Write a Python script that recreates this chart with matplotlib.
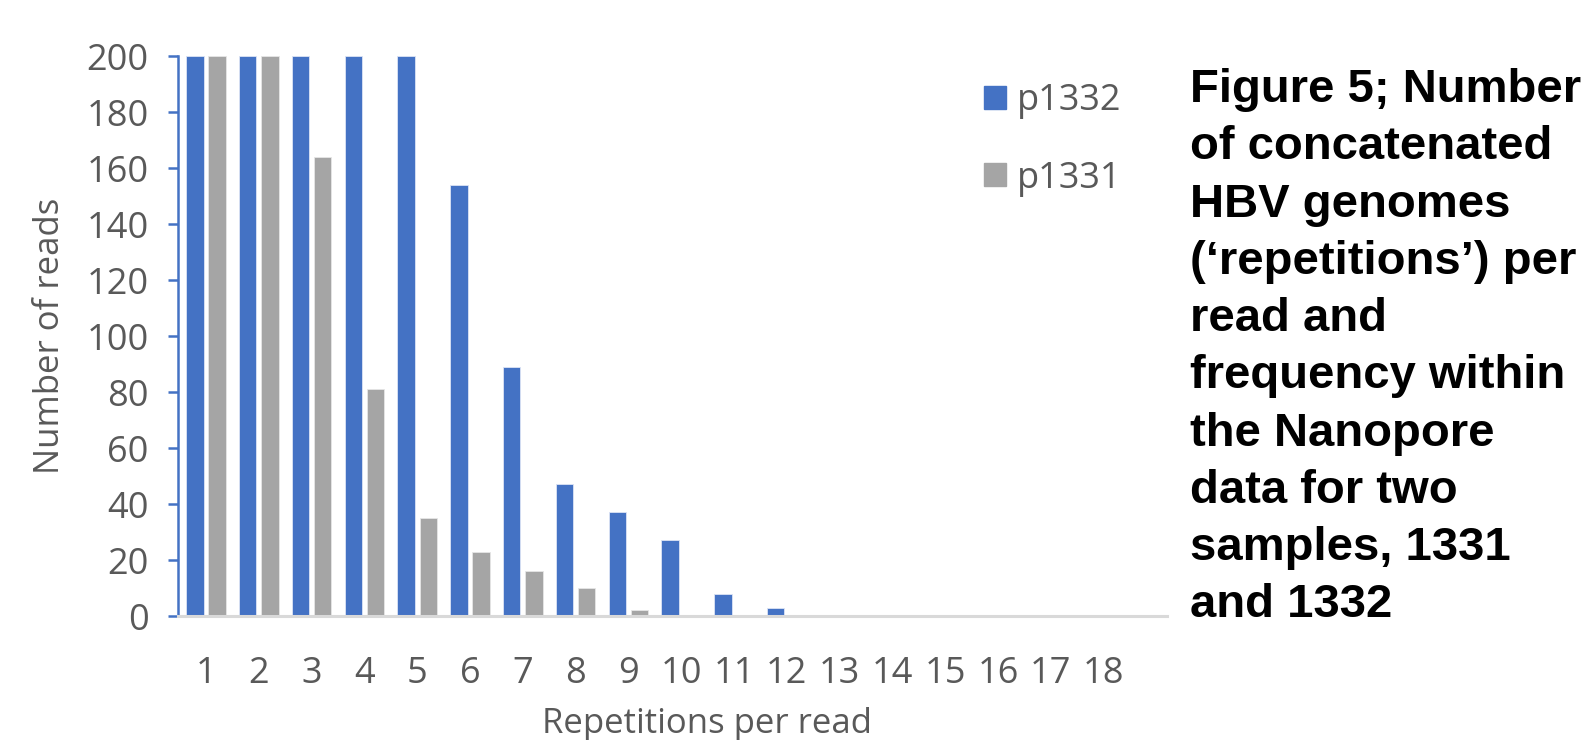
import numpy as np
import matplotlib.pyplot as plt
from matplotlib.patches import Patch

repetitions = list(range(1, 19))
p1332 = [200, 200, 200, 200, 200, 154, 89, 47, 37, 27, 8, 3, 0, 0, 0, 0, 0, 0]
p1331 = [200, 200, 164, 81, 35, 23, 16, 10, 2, 0, 0, 0, 0, 0, 0, 0, 0, 0]
yticks = list(range(0, 201, 20))

caption = ("Figure 5; Number\nof concatenated\nHBV genomes\n"
           "(\u2018repetitions\u2019) per\nread and\nfrequency within\n"
           "the Nanopore\ndata for two\nsamples, 1331\nand 1332")

blue = "#4472C4"
grey = "#A5A5A5"
txt = "#595959"

plt.rcParams['font.family'] = ['Open Sans', 'DejaVu Sans']

fig = plt.figure(figsize=(15.91, 7.40), dpi=100)
ax = fig.add_axes([178 / 1591, 1 - 616 / 740, (1167 - 178) / 1591, (616 - 56) / 740])

x = np.array(repetitions)
w = 0.33
ax.bar(x - 0.21, p1332, w, color=blue, edgecolor="#DCE4F5", linewidth=0.6, label="p1332")
ax.bar(x + 0.21, p1331, w, color=grey, edgecolor="#E6E6E6", linewidth=0.6, label="p1331")

ax.set_xlim(0.47, 19.2)
ax.set_ylim(0, 200)
ax.set_yticks(yticks)
ax.set_xticks(repetitions)

for s in ["top", "right"]:
    ax.spines[s].set_visible(False)
ax.spines["left"].set_color(blue)
ax.spines["left"].set_linewidth(1.8)
ax.spines["bottom"].set_color("#D9D9D9")
ax.spines["bottom"].set_linewidth(2.2)

ax.tick_params(axis="y", colors=blue, length=7, width=1.8, pad=14, labelsize=26, labelcolor=txt)
ax.tick_params(axis="x", length=0, pad=29, labelsize=26, labelcolor=txt)

ax.set_ylabel("Number of reads", fontsize=25, color=txt, labelpad=14)
ax.set_xlabel("Repetitions per read", fontsize=25, color=txt, va="center")
ax.xaxis.set_label_coords(0.535, -0.192)

handles = [Patch(color=blue, label="p1332"), Patch(color=grey, label="p1331")]
fig.legend(handles=handles, loc="upper left", bbox_to_anchor=(984 / 1591, 1 - 83 / 740),
           frameon=False, fontsize=26, labelcolor=txt, handlelength=0.6, handleheight=0.6,
           handletextpad=0.3, labelspacing=1.15, borderpad=0, borderaxespad=0)

fig.text(1190 / 1591, 1 - 68 / 740, caption, fontsize=34, fontweight="bold",
         family="Liberation Sans", color="black", va="top", ha="left", linespacing=1.39)

fig.savefig("out.png", dpi=100)
